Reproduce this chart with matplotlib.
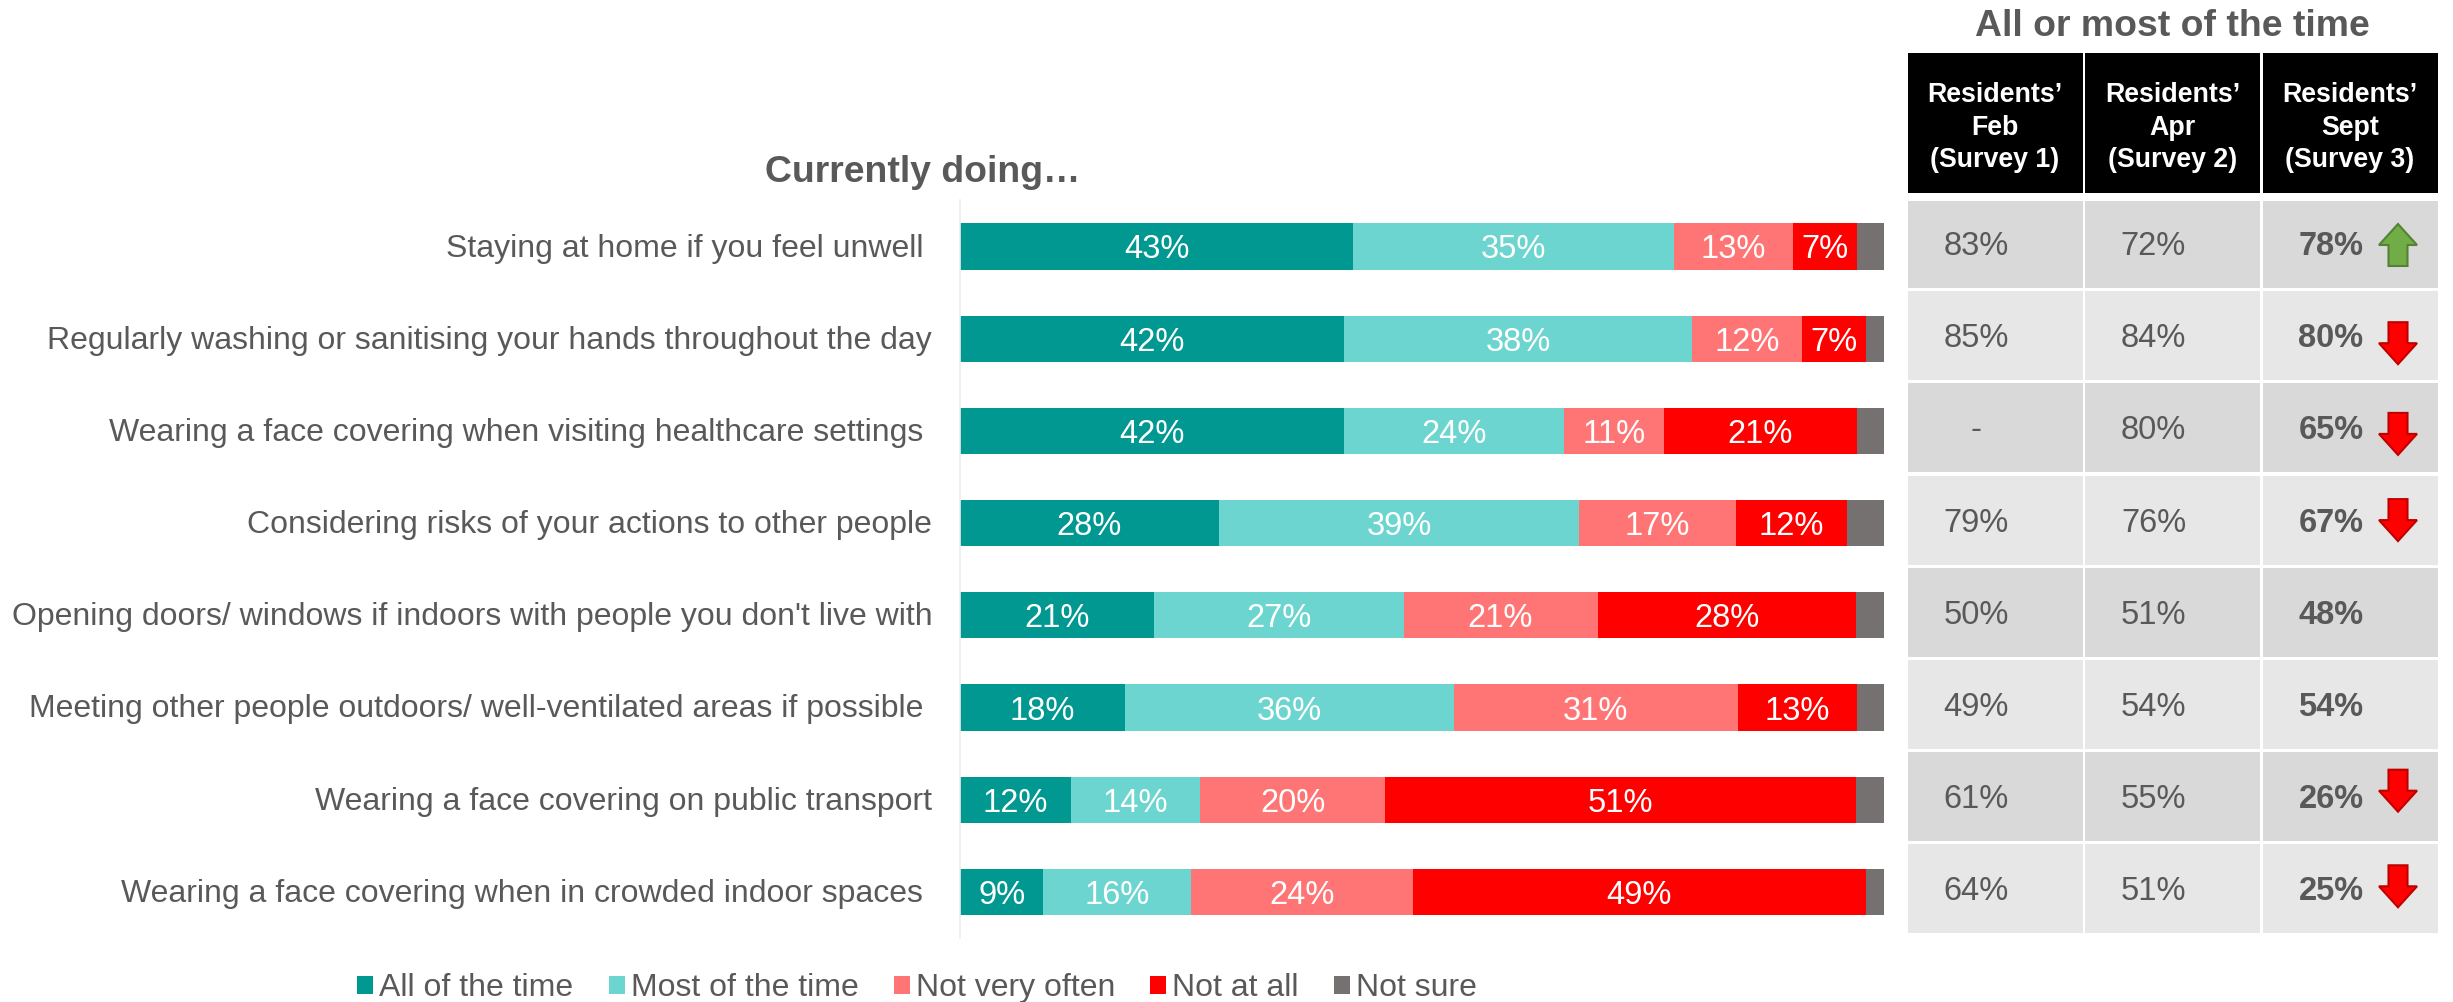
"""
Behaviours survey: stacked frequency bars with a side table of earlier waves.
"""

import matplotlib
matplotlib.use("Agg")
import matplotlib.pyplot as plt
import numpy as np
from matplotlib.patches import Polygon, Rectangle
from matplotlib.transforms import ScaledTranslation

W, H = 2453, 1002

categories = [
    "Staying at home if you feel unwell ",
    "Regularly washing or sanitising your hands throughout the day",
    "Wearing a face covering when visiting healthcare settings ",
    "Considering risks of your actions to other people",
    "Opening doors/ windows if indoors with people you don't live with",
    "Meeting other people outdoors/ well-ventilated areas if possible ",
    "Wearing a face covering on public transport",
    "Wearing a face covering when in crowded indoor spaces ",
]
series_names = ["All of the time", "Most of the time", "Not very often", "Not at all", "Not sure"]
all_time = [43, 42, 42, 28, 21, 18, 12, 9]
most_time = [35, 38, 24, 39, 27, 36, 14, 16]
not_often = [13, 12, 11, 17, 21, 31, 20, 24]
not_at_all = [7, 7, 21, 12, 28, 13, 51, 49]
not_sure = [3, 2, 3, 4, 3, 3, 3, 2]
colors = ["#009890", "#6DD5CF", "#FF7575", "#FF0000", "#767171"]

column_heads = ["Residents’\nFeb\n(Survey 1)", "Residents’\nApr\n(Survey 2)", "Residents’\nSept\n(Survey 3)"]
feb = ["83%", "85%", "-", "79%", "50%", "49%", "61%", "64%"]
apr = ["72%", "84%", "80%", "76%", "51%", "54%", "55%", "51%"]
sept = ["78%", "80%", "65%", "67%", "48%", "54%", "26%", "25%"]
trend = ["up", "down", "down", "down", None, None, "down", "down"]
arrow_shift = [-1.5, 4.5, 3, -3, 0, 0, -9, -5.6]  # hand placed, not quite on the row centre

TEXT = "#595959"
ROW_PITCH = 92.2
plt.rcParams["font.family"] = ["Liberation Sans", "DejaVu Sans"]

fig = plt.figure(figsize=(W / 100, H / 100), dpi=100)

# overlay in pixel coordinates for the table and headings
ov = fig.add_axes([0, 0, 1, 1])
ov.set_xlim(0, W)
ov.set_ylim(H, 0)
ov.axis("off")

# bar panel
top, bottom = 200.4, 938.0
left, right = 960.0, 1884.0
ax = fig.add_axes([left / W, 1 - bottom / H, (right - left) / W, (bottom - top) / H])
ax.set_xlim(0, 100)
ax.set_ylim(7.5, -0.5)
ax.patch.set_alpha(0)

table = np.array([all_time, most_time, not_often, not_at_all, not_sure], dtype=float)
shares = table / table.sum(axis=0) * 100  # rounded labels can add up to 101
y = np.arange(len(categories))
running = np.zeros(len(categories))
handles = []
for k, name in enumerate(series_names):
    bars = ax.barh(y, shares[k], left=running, height=0.5, color=colors[k], label=name)
    handles.append(bars)
    if k < 4:
        for i, bar in enumerate(bars):
            ax.text(bar.get_x() + bar.get_width() / 2, y[i], f"{table[k, i]:.0f}%",
                    ha="center", va="center_baseline", color="white", fontsize=23.5)
    running += shares[k]

ax.set_yticks(y)
ax.set_yticklabels(categories, fontsize=23.05, color=TEXT)
ax.tick_params(axis="y", length=0, pad=20)
ax.tick_params(axis="x", length=0, labelbottom=False)
ax.spines[["top", "right", "bottom"]].set_visible(False)
ax.spines["left"].set_color("#EDEDED")
ax.spines["left"].set_linewidth(1.2)
nudge = ScaledTranslation(0, 1.5 / 100, fig.dpi_scale_trans)
for lab in ax.get_yticklabels():
    lab.set_transform(lab.get_transform() + nudge)

ov.text(923, 172, "Currently doing…", ha="center", va="center", fontsize=26.9,
        fontweight="bold", color=TEXT)
ov.text(2172, 26, "All or most of the time", ha="center", va="center", fontsize=26.9,
        fontweight="bold", color=TEXT)

# table on the right
col_left = [1907.5, 2085.0, 2262.5]
col_width = 175.0
for c, head in enumerate(column_heads):
    ov.add_patch(Rectangle((col_left[c], 53), col_width, 140, facecolor="black", edgecolor="none"))
    ov.text(col_left[c] + col_width / 2, 127.5, head, ha="center", va="center", color="white",
            fontsize=19.3, fontweight="bold", linespacing=1.32)

for i in range(len(categories)):
    cy = 246.5 + i * ROW_PITCH
    shade = "#D9D9D9" if i % 2 == 0 else "#E7E7E7"
    cell_bottom = cy + 41.5
    cell_top = 201 if i == 0 else cell_bottom - 89
    for c, col in enumerate([feb, apr, sept]):
        ov.add_patch(Rectangle((col_left[c], cell_top), col_width, cell_bottom - cell_top,
                               facecolor=shade, edgecolor="none"))
        ov.text(col_left[c] + col_width / 2 - 19, cy, col[i], ha="center", va="center",
                fontsize=23.5, color=TEXT, fontweight="bold" if c == 2 else "normal")
    if trend[i]:
        sign = -1 if trend[i] == "up" else 1
        ax_x = col_left[2] + 135.5
        ay = cy + arrow_shift[i]
        pts = [(ax_x - 9.5, ay - sign * 21), (ax_x + 9.5, ay - sign * 21), (ax_x + 9.5, ay),
               (ax_x + 19, ay), (ax_x, ay + sign * 21), (ax_x - 19, ay), (ax_x - 9.5, ay)]
        face, edge = ("#70AD47", "#548235") if trend[i] == "up" else ("#FF0000", "#C00000")
        ov.add_patch(Polygon(pts, closed=True, facecolor=face, edgecolor=edge, linewidth=1.5))

fig.legend(handles=handles, loc="center", bbox_to_anchor=(917 / W, 1 - 988 / H), ncol=5, frameon=False,
           fontsize=23, labelcolor=TEXT, handlelength=0.5, handleheight=0.5, handletextpad=0.19,
           columnspacing=1.10, borderpad=0, borderaxespad=0)

fig.savefig("out.png", dpi=100)
